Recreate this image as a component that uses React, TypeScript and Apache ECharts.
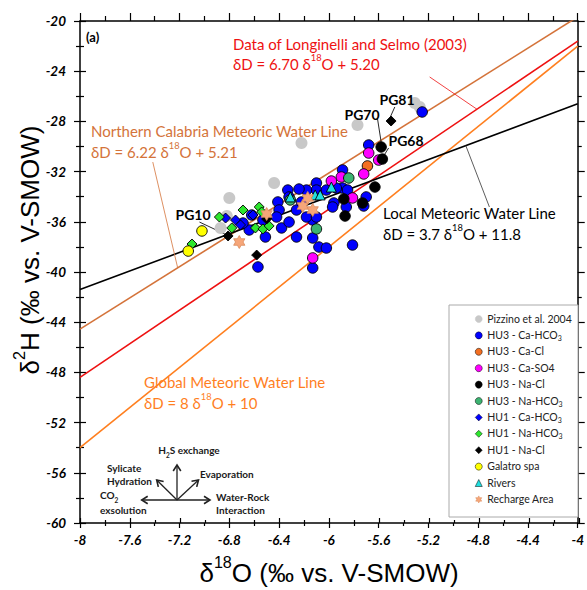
import React, { useEffect, useRef } from "react";
import * as echarts from "echarts";

const X_MIN = -8, X_MAX = -4, X_STEP = 0.4;
const Y_MIN = -60, Y_MAX = -20, Y_STEP = 4;

const pizzino = [[-6.22,-29.72],[-6.44,-32.91],[-6.80,-34.10],[-6.82,-35.54],[-6.87,-36.49],[-5.77,-28.29],[-5.31,-26.53],[-5.27,-26.85]];
const hu3CaHCO3 = [
  [-5.25,-27.25],[-5.68,-29.88],[-5.89,-31.87],[-5.89,-33.31],[-5.85,-33.47],[-5.70,-34.02],[-5.72,-34.74],[-5.86,-34.82],
  [-5.96,-34.50],[-5.81,-37.85],[-6.08,-38.01],[-6.02,-38.09],[-6.13,-39.68],[-6.13,-35.86],[-6.13,-37.29],[-6.10,-32.91],
  [-6.10,-33.47],[-6.18,-33.47],[-6.24,-33.39],[-6.33,-33.47],[-6.02,-33.47],[-5.94,-33.31],[-6.32,-34.02],[-6.41,-34.42],
  [-6.40,-35.06],[-6.26,-35.06],[-6.18,-35.62],[-6.10,-35.62],[-5.97,-34.82],[-6.38,-36.49],[-6.26,-37.21],[-6.51,-37.21],
  [-6.64,-36.65],[-6.32,-36.02],[-6.53,-35.86],[-6.62,-35.46],[-6.69,-36.10],[-6.57,-39.60],[-6.22,-34.42],[-6.42,-35.62]
];
const hu3CaCl = [[-5.69,-31.55]];
const hu3CaSO4 = [[-5.68,-30.52],[-5.60,-31.08],[-5.72,-32.19],[-5.90,-32.43],[-5.98,-32.75],[-5.81,-34.10],[-6.13,-38.88]];
const hu3NaCl = [[-5.58,-30.04],[-5.57,-31.00],[-5.63,-33.23],[-5.88,-34.18],[-5.73,-34.50],[-5.87,-35.54]];
const hu3NaHCO3 = [[-5.84,-32.51],[-6.10,-36.57],[-6.31,-34.26]];
const hu1CaHCO3 = [[-6.83,-35.70],[-6.75,-35.86],[-6.71,-36.25],[-6.61,-35.46]];
const hu1NaHCO3 = [[-6.88,-35.62],[-6.69,-35.06],[-6.56,-34.82],[-6.54,-35.22],[-6.78,-36.49],[-6.59,-36.49],[-6.53,-36.57],[-6.48,-36.33],[-7.10,-37.77]];
const hu1NaCl = [[-5.50,-27.97],[-6.81,-37.13],[-6.58,-38.65],[-6.50,-35.78]];
const galatro = [[-7.02,-36.73],[-7.13,-38.33]];
const rivers = [[-6.31,-34.02],[-6.11,-33.86],[-6.07,-33.86],[-5.98,-33.23]];
const recharge = [[-6.50,-35.38],[-6.72,-37.61],[-6.21,-34.74],[-6.13,-35.06],[-6.17,-34.10]];

// Regression / reference lines (end points)
const gmwl = [[-8,-54],[-4,-22]];
const ncmwl = [[-8,-44.55],[-4,-19.67]];
const longinelli = [[-8,-48.4],[-4,-21.6]];
const lmwl = [[-8,-41.4],[-4,-26.6]];

// Leader lines
const leaderNC = [[-7.415,-31.24],[-7.215,-39.67]];
const leaderLS = [[-5.19,-24.46],[-4.81,-27.03]];
const leaderLM = [[-4.90,-29.92],[-4.71,-34.82]];
const leaderPG10 = [[-7.04,-36.02],[-6.82,-37.05]];
const leaderPG70 = [[-5.61,-27.73],[-5.58,-29.64]];
const leaderPG68 = [[-5.52,-30.12],[-5.57,-30.92]];
const leaderPG81 = [[-5.47,-26.85],[-5.51,-27.73]];

const FONT = 'Lato, "Open Sans", sans-serif';

function starPath() {
  const pts: string[] = [];
  for (let i = 0; i < 12; i++) {
    const a = -Math.PI / 2 + (i * Math.PI) / 6;
    const r = i % 2 === 0 ? 10 : 5.774;
    pts.push(`${(r * Math.cos(a)).toFixed(3)} ${(r * Math.sin(a)).toFixed(3)}`);
  }
  return "path://M" + pts.join(" L") + " Z";
}

const STAR = starPath();

function scatter(name: string, data: number[][], symbol: string, size: number | number[], color: string, border: string | null, bw = 0.9) {
  return {
    type: "scatter", name, data, symbol, symbolSize: size, xAxisIndex: 0, yAxisIndex: 0,
    symbolKeepAspect: true,
    itemStyle: { color, borderColor: border || color, borderWidth: border ? bw : 0, opacity: 1 },
    emphasis: { disabled: true }, silent: true, z: 3,
  };
}

function line(data: number[][], color: string, width: number) {
  return {
    type: "line", data, xAxisIndex: 0, yAxisIndex: 0, symbol: "none", showSymbol: false, silent: true,
    lineStyle: { color, width }, z: 2, emphasis: { disabled: true },
  };
}

function richLegend(name: string) {
  const m = name.match(/^(.*HCO)3$/);
  if (m) return `{n|${m[1]}}{sub|3}`;
  return `{n|${name}}`;
}

function arrow(cx: number, cy: number, ex: number, ey: number) {
  const dx = ex - cx, dy = ey - cy;
  const L = Math.sqrt(dx * dx + dy * dy);
  const ux = dx / L, uy = dy / L;
  const nx = -uy, ny = ux;
  const h = 6, w = 3.8;
  return [
    { type: "line", shape: { x1: cx, y1: cy, x2: ex, y2: ey }, style: { stroke: "#222", lineWidth: 1.3 }, z: 5 },
    {
      type: "polyline",
      shape: { points: [[ex - h * ux + w * nx, ey - h * uy + w * ny], [ex, ey], [ex - h * ux - w * nx, ey - h * uy - w * ny]] },
      style: { stroke: "#222", lineWidth: 1.6, fill: null }, z: 5,
    },
  ];
}

function txt(x: number, y: number, text: string, opts: any = {}) {
  const { color = "#000", size = 15, weight = "normal", align = "left", rich, family = FONT, rotation = 0 } = opts;
  return {
    type: "text", x, y, rotation, z: 6,
    style: {
      text, fill: color, fontSize: size, fontWeight: weight, fontFamily: family,
      textAlign: align, textVerticalAlign: "middle", align, verticalAlign: "middle", rich,
    },
  };
}

const supRich = (size: number, color: string, family = FONT, weight = "normal") => ({
  n: { fontSize: size, fontFamily: family, fill: color, color, verticalAlign: "bottom", lineHeight: size * 1.25, fontWeight: weight },
  sup: { fontSize: size * 0.62, fontFamily: family, fill: color, color, verticalAlign: "top", fontWeight: weight },
});
const subRich = (size: number, color: string) => ({
  n: { fontSize: size, fontFamily: FONT, fill: color, color, verticalAlign: "top", lineHeight: size * 1.35, fontWeight: "bold" },
  sub: { fontSize: size * 0.65, fontFamily: FONT, fill: color, color, verticalAlign: "bottom", fontWeight: "bold" },
});

const eq = (pre: string, post: string) => `{n|${pre}}{sup|18}{n|${post}}`;

const NAMES = {
  piz: "Pizzino et al. 2004",
  a: "HU3 - Ca-HCO3", b: "HU3 - Ca-Cl", c: "HU3 - Ca-SO4", d: "HU3 - Na-Cl", e: "HU3 - Na-HCO3",
  f: "HU1 - Ca-HCO3", g: "HU1 - Na-HCO3", h: "HU1 - Na-Cl", gal: "Galatro spa", riv: "Rivers", rec: "Recharge Area",
};

const GRID = { left: 80, top: 21, width: 499, height: 502 };
const tickStyle = { color: "#000", width: 1.2 };
const axisLineStyle = { color: "#000", width: 1.5 };
const labelStyle = { color: "#000", fontFamily: FONT, fontStyle: "italic", fontWeight: "bold", fontSize: 13.5 };
const fmt = (v: number) => String(parseFloat(v.toFixed(2)));

function xAx(grid: number, position: string, tickLen: number, minorLen: number, inside: boolean, showLine: boolean, showLabel: boolean) {
  return {
    type: "value", gridIndex: grid, min: X_MIN, max: X_MAX, interval: X_STEP, position,
    axisLine: { show: showLine, onZero: false, lineStyle: axisLineStyle },
    axisTick: { show: true, inside, length: tickLen, lineStyle: tickStyle },
    minorTick: { show: true, splitNumber: 2, length: minorLen, lineStyle: tickStyle },
    splitLine: { show: false }, minorSplitLine: { show: false },
    axisLabel: { show: showLabel, ...labelStyle, margin: 10, formatter: fmt },
  };
}
function yAx(grid: number, position: string, tickLen: number, minorLen: number, inside: boolean, showLine: boolean, showLabel: boolean) {
  return {
    type: "value", gridIndex: grid, min: Y_MIN, max: Y_MAX, interval: Y_STEP, position,
    axisLine: { show: showLine, onZero: false, lineStyle: axisLineStyle },
    axisTick: { show: true, inside, length: tickLen, lineStyle: tickStyle },
    minorTick: { show: true, splitNumber: 2, length: minorLen, lineStyle: tickStyle },
    splitLine: { show: false }, minorSplitLine: { show: false },
    axisLabel: { show: showLabel, ...labelStyle, margin: 14, formatter: fmt },
  };
}

const C = { x: 177, y: 500 };

const option: any = {
  animation: false,
  backgroundColor: "#fff",
  grid: [{ ...GRID }, { ...GRID }],
  xAxis: [
    xAx(0, "bottom", 5, 3, false, true, true),
    xAx(0, "top", 8, 5, false, true, false),
    xAx(1, "bottom", 5, 3, true, false, false),
  ],
  yAxis: [
    yAx(0, "left", 6, 4, false, true, true),
    yAx(0, "right", 7, 4, false, true, false),
    yAx(1, "left", 6, 4, true, false, false),
  ],
  legend: {
    orient: "vertical", left: 475, top: 313, itemWidth: 7, itemHeight: 7, itemGap: 4.4,
    selectedMode: false, padding: 0,
    itemStyle: { borderWidth: 0.5 },
    data: [NAMES.piz, NAMES.a, NAMES.b, NAMES.c, NAMES.d, NAMES.e, NAMES.f, NAMES.g, NAMES.h, NAMES.gal, NAMES.riv, NAMES.rec],
    formatter: richLegend,
    textStyle: {
      color: "#222", fontFamily: FONT, fontSize: 10.5, lineHeight: 10,
      rich: {
        n: { fontSize: 10.5, fontFamily: FONT, color: "#222", verticalAlign: "top", lineHeight: 12 },
        sub: { fontSize: 7, fontFamily: FONT, color: "#222", verticalAlign: "bottom" },
      },
    },
    z: 5,
  },
  series: [
    line(gmwl, "#FF7F1F", 1.6),
    line(ncmwl, "#D4733A", 1.6),
    line(longinelli, "#EE1111", 1.6),
    line(lmwl, "#000", 1.6),
    line(leaderNC, "#D4733A", 0.8),
    line(leaderLS, "#EE1111", 0.8),
    line(leaderLM, "#333", 0.8),
    line(leaderPG10, "#111", 0.9),
    line(leaderPG70, "#111", 0.9),
    line(leaderPG68, "#111", 0.9),
    line(leaderPG81, "#111", 0.9),
    scatter(NAMES.piz, pizzino, "circle", 12, "#C8C8C8", null),
    scatter(NAMES.a, hu3CaHCO3, "circle", 10.5, "#0000FF", "#000"),
    scatter(NAMES.b, hu3CaCl, "circle", 10.5, "#F36F21", "#000"),
    scatter(NAMES.c, hu3CaSO4, "circle", 10.5, "#FF00FF", "#000"),
    scatter(NAMES.d, hu3NaCl, "circle", 10.5, "#000000", "#000"),
    scatter(NAMES.e, hu3NaHCO3, "circle", 10.5, "#3CB371", "#000"),
    scatter(NAMES.f, hu1CaHCO3, "diamond", 10, "#0000FF", "#000"),
    scatter(NAMES.g, hu1NaHCO3, "diamond", 10, "#2EE62E", "#000"),
    scatter(NAMES.h, hu1NaCl, "diamond", 10, "#000000", "#000"),
    scatter(NAMES.gal, galatro, "circle", 10.5, "#FFFF00", "#000"),
    scatter(NAMES.riv, rivers, "triangle", 10, "#1FE0E0", "#000"),
    scatter(NAMES.rec, recharge, STAR, 13, "#F6A679", "#D98A5A", 0.8),
  ],
  graphic: [
    { type: "rect", shape: { x: 449, y: 305, width: 129, height: 212 }, style: { fill: "#fff", stroke: "#aaa", lineWidth: 1 }, z: 4 },
    txt(86, 37, "(a)", { size: 13, weight: "bold" }),
    txt(233, 44, "Data of Longinelli and Selmo (2003)", { color: "#EE1111", size: 15 }),
    txt(233, 62, eq("δD = 6.70 δ", "O + 5.20"), { color: "#EE1111", rich: supRich(15, "#EE1111") }),
    txt(91, 131, "Northern Calabria Meteoric Water Line", { color: "#D4733A", size: 15 }),
    txt(91, 150, eq("δD = 6.22 δ", "O + 5.21"), { color: "#D4733A", rich: supRich(15, "#D4733A") }),
    txt(383, 213, "Local Meteoric Water Line", { color: "#000", size: 15 }),
    txt(383, 232, eq("δD = 3.7 δ", "O + 11.8"), { color: "#000", rich: supRich(15, "#000") }),
    txt(144, 382, "Global Meteoric Water Line", { color: "#FF7F1F", size: 15 }),
    txt(144, 401, eq("δD = 8 δ", "O + 10"), { color: "#FF7F1F", rich: supRich(15, "#FF7F1F") }),
    txt(193, 214, "PG10", { size: 14, weight: "bold", align: "center" }),
    txt(362, 114, "PG70", { size: 14, weight: "bold", align: "center" }),
    txt(397, 99, "PG81", { size: 14, weight: "bold", align: "center" }),
    txt(406, 140, "PG68", { size: 14, weight: "bold", align: "center" }),
    // process diagram
    ...arrow(C.x, C.y, 177, 465),
    ...arrow(C.x, C.y, 156.7, 480),
    ...arrow(C.x, C.y, 198.5, 480),
    ...arrow(C.x, C.y, 141.7, 500),
    ...arrow(C.x, C.y, 210, 500),
    txt(189, 452, "{n|H}{sub|2}{n|S exchange}", { align: "center", rich: subRich(10, "#1a1a1a") }),
    txt(107, 468, "Sylicate", { size: 10, weight: "bold", color: "#1a1a1a" }),
    txt(107, 481, "Hydration", { size: 10, weight: "bold", color: "#1a1a1a" }),
    txt(200, 474, "Evaporation", { size: 10, weight: "bold", color: "#1a1a1a" }),
    txt(100, 497, "{n|CO}{sub|2}", { rich: subRich(10, "#1a1a1a") }),
    txt(100, 510, "exsolution", { size: 10, weight: "bold", color: "#1a1a1a" }),
    txt(216, 497, "Water-Rock", { size: 10, weight: "bold", color: "#1a1a1a" }),
    txt(216, 510, "Interaction", { size: 10, weight: "bold", color: "#1a1a1a" }),
    // axis titles
    txt(329, 570, "{n|δ}{sup|18}{n|O (‰ vs. V-SMOW)}", { align: "center", rich: supRich(26, "#000", '"Liberation Sans", Arial, sans-serif') }),
    txt(27, 250, "{n|δ}{sup|2}{n|H (‰ vs. V-SMOW)}", { align: "center", rotation: Math.PI / 2, rich: supRich(26, "#000", '"Liberation Sans", Arial, sans-serif') }),
  ],
};

export default function App() {
  const ref = useRef<HTMLDivElement>(null);
  useEffect(() => {
    document.body.style.margin = "0";
    const chart = echarts.init(ref.current!, null, { renderer: "svg" });
    chart.setOption(option);
    return () => chart.dispose();
  }, []);
  return <div ref={ref} style={{ width: 587, height: 590 }} />;
}
